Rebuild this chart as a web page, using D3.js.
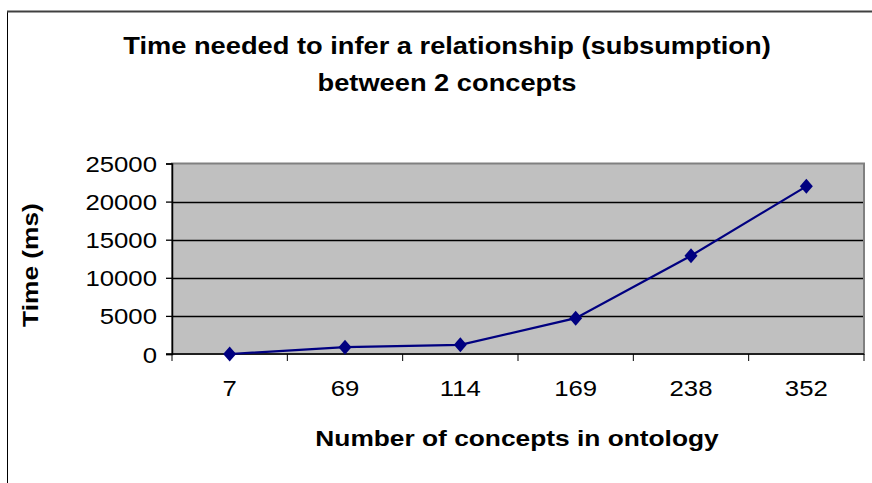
<!DOCTYPE html>
<html>
<head>
<meta charset="utf-8">
<script src="https://cdn.jsdelivr.net/npm/d3@7"></script>
<style>
  html, body { margin: 0; padding: 0; background: #fff; }
  svg { display: block; font-family: Arial, "Liberation Sans", sans-serif; }
</style>
</head>
<body>
<svg id="chart" width="872" height="483"></svg>
<script>
// Ontology sizes (number of concepts) and measured inference time in ms
const concepts = ["7", "69", "114", "169", "238", "352"];
const timeMs = [0, 900, 1200, 4700, 12900, 22000];
const yTicks = [0, 5000, 10000, 15000, 20000, 25000];

const titleLines = ["Time needed to infer a relationship (subsumption)", "between 2 concepts"];
const xTitle = "Number of concepts in ontology";
const yTitle = "Time (ms)";

const svg = d3.select("#chart");
const W = 872, H = 483;
const plot = { left: 172, right: 864, top: 163.5, bottom: 354 };
const stretch = 1.17; // wide-set lettering

// Place a text at (px, py), widened along its own baseline
function placeWide(sel, px, py, rot) {
  sel.attr("x", 0).attr("y", 0)
     .attr("transform", `translate(${px},${py})${rot ? ` rotate(${rot})` : ""} scale(${stretch},1)`);
}

// Outer chart frame (extends past the right and bottom edges)
svg.append("rect")
  .attr("x", 7.5).attr("y", 11.5)
  .attr("width", W + 20).attr("height", H + 20)
  .attr("fill", "#fff")
  .attr("stroke", "#000").attr("stroke-width", 1);
svg.append("line")
  .attr("x1", 7).attr("x2", W).attr("y1", 11.5).attr("y2", 11.5)
  .attr("stroke", "#404040").attr("stroke-width", 2);

const x = d3.scaleBand().domain(concepts).range([plot.left, plot.right]);
const y = d3.scaleLinear().domain([0, 25000]).range([plot.bottom, plot.top]);

// Plot area background
svg.append("rect")
  .attr("x", plot.left).attr("y", plot.top)
  .attr("width", plot.right - plot.left).attr("height", plot.bottom - plot.top)
  .attr("fill", "#C0C0C0");

// Horizontal gridlines
svg.append("g").selectAll("line")
  .data(yTicks.filter(d => d > 0 && d < 25000))
  .join("line")
  .attr("x1", plot.left).attr("x2", plot.right)
  .attr("y1", d => Math.round(y(d)) + 0.5).attr("y2", d => Math.round(y(d)) + 0.5)
  .attr("stroke", "#000").attr("stroke-width", 1.3);

// Plot border
svg.append("rect")
  .attr("x", plot.left).attr("y", plot.top)
  .attr("width", plot.right - plot.left).attr("height", plot.bottom - plot.top)
  .attr("fill", "none")
  .attr("stroke", "#808080").attr("stroke-width", 2);

// Y axis
const yAxis = d3.axisLeft(y).tickValues(yTicks).tickSize(6).tickPadding(9).tickFormat(d3.format("d"));
const gy = svg.append("g").attr("transform", `translate(${plot.left},0)`).call(yAxis);
gy.select(".domain").attr("stroke", "#000").attr("stroke-width", 1.5);
gy.selectAll(".tick line").attr("stroke", "#000").attr("stroke-width", 1.3);
gy.selectAll(".tick text")
  .attr("font-size", 22).attr("fill", "#000")
  .attr("font-family", "Arial, 'Liberation Sans', sans-serif")
  .attr("dy", null)
  .each(function () { placeWide(d3.select(this), -15, 8); });

// X axis with ticks on category boundaries
const gx = svg.append("g").attr("transform", `translate(0,${plot.bottom})`);
gx.append("line")
  .attr("x1", plot.left - 6).attr("x2", plot.right)
  .attr("y1", 0).attr("y2", 0)
  .attr("stroke", "#000").attr("stroke-width", 1.5);
const bounds = concepts.map(c => x(c)).concat([plot.right]);
gx.selectAll("line.tb").data(bounds).join("line").attr("class", "tb")
  .attr("x1", d => d).attr("x2", d => d)
  .attr("y1", 0).attr("y2", 7)
  .attr("stroke", "#000").attr("stroke-width", 1);
gx.selectAll("text").data(concepts).join("text")
  .attr("text-anchor", "middle")
  .attr("font-size", 22)
  .text(d => d)
  .each(function (d) { placeWide(d3.select(this), x(d) + x.bandwidth() / 2, 42); });

// Data line
svg.append("path")
  .datum(timeMs)
  .attr("d", d3.line().x((d, i) => x(concepts[i]) + x.bandwidth() / 2).y(d => y(d)))
  .attr("fill", "none")
  .attr("stroke", "#000080").attr("stroke-width", 2.2);

// Diamond markers
svg.append("g").selectAll("path")
  .data(timeMs)
  .join("path")
  .attr("transform", (d, i) => `translate(${x(concepts[i]) + x.bandwidth() / 2},${y(d)})`)
  .attr("d", "M0,-7.5L6.5,0L0,7.5L-6.5,0Z")
  .attr("fill", "#000080");

// Titles
svg.append("g").selectAll("text")
  .data(titleLines)
  .join("text")
  .attr("text-anchor", "middle")
  .attr("font-size", 23.3).attr("font-weight", "bold")
  .text(d => d)
  .each(function (d, i) { placeWide(d3.select(this), 447, 54 + i * 37); });

svg.append("text")
  .attr("text-anchor", "middle")
  .attr("font-size", 22.5).attr("font-weight", "bold")
  .text(xTitle)
  .call(placeWide, 517, 446);

svg.append("text")
  .attr("text-anchor", "middle")
  .attr("font-size", 22.5).attr("font-weight", "bold")
  .text(yTitle)
  .call(placeWide, 38, 265, -90);
</script>
</body>
</html>
